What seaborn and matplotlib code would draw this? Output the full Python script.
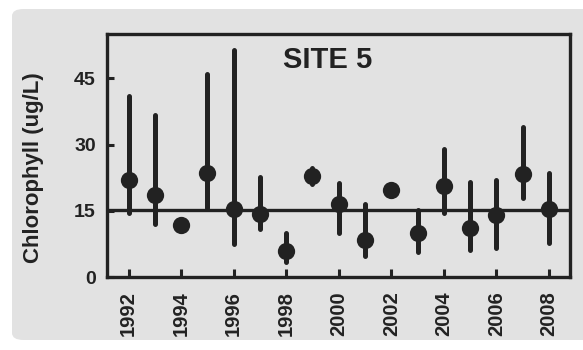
import numpy as np
import pandas as pd
import matplotlib
matplotlib.use("Agg")
import matplotlib.pyplot as plt
from matplotlib.patches import FancyBboxPatch
import seaborn as sns

years = [1992, 1993, 1994, 1995, 1996, 1997, 1998, 1999, 2000,
         2001, 2002, 2003, 2004, 2005, 2006, 2007, 2008]
means = [22.0, 18.6, 11.9, 23.6, 15.4, 14.3, 5.9, 22.9, 16.5,
         8.5, 19.7, 9.9, 20.6, 11.1, 14.1, 23.4, 15.4]
lows = [14.5, 12.0, np.nan, 15.6, 7.4, 10.9, 3.5, 21.1, 9.9,
        4.7, np.nan, 5.7, 14.6, 6.1, 6.6, 17.8, 7.6]
highs = [41.0, 36.8, np.nan, 46.0, 51.5, 22.7, 9.9, 24.7, 21.4,
         16.6, np.nan, 15.3, 29.0, 21.6, 22.0, 34.0, 23.5]
overall_mean = 15.1
title = "SITE 5"
ylabel = "Chlorophyll (ug/L)"
yticks = [0, 15, 30, 45]
xticks = list(range(1992, 2009, 2))

df = pd.DataFrame({"year": years, "mean": means, "lo": lows, "hi": highs})

sns.set_theme(style="white")
plt.rcParams["font.family"] = ["Liberation Sans", "DejaVu Sans"]
plt.rcParams["font.weight"] = "bold"

ink = "#222222"
gray = "#e2e2e2"

fig = plt.figure(figsize=(5.83, 3.5), dpi=100, facecolor="white")
panel = FancyBboxPatch((12 / 583, 10 / 350), 600 / 583, 331 / 350,
                       boxstyle="round,pad=0,rounding_size=0.02",
                       transform=fig.transFigure, facecolor=gray,
                       edgecolor="none", zorder=-10)
fig.patches.append(panel)

ax = fig.add_axes([107 / 583, 73 / 350, 463 / 583, 243.5 / 350])
ax.set_zorder(5)
ax.set_facecolor(gray)

ax.axhline(overall_mean, color=ink, lw=2.4, zorder=1)
bars = df.dropna()
ax.vlines(bars["year"], bars["lo"], bars["hi"], color=ink, lw=3.6,
          capstyle="round", zorder=2)
sns.scatterplot(data=df, x="year", y="mean", ax=ax, s=155, color=ink,
                edgecolor=ink, linewidth=0, zorder=3, legend=False)

ax.set_xlim(1991.18, 2008.8)
ax.set_ylim(0, 55.2)
ax.set_xticks(xticks)
ax.set_xticklabels([str(x) for x in xticks], rotation=90, fontsize=14.5,
                   fontweight="bold", color=ink)
ax.set_yticks(yticks)
ax.set_yticklabels([str(y) for y in yticks], fontsize=14,
                   fontweight="bold", color=ink)
ax.tick_params(axis="x", direction="in", length=5.5, width=2.2, color=ink,
               pad=10, bottom=True)
ax.tick_params(axis="y", direction="in", length=5, width=2.2, color=ink,
               pad=8, left=True)
ax.set_xlabel("")
ax.set_ylabel(ylabel, fontsize=16, fontweight="bold", color=ink)
ax.yaxis.set_label_coords(-0.137, 0.45)

for sp in ax.spines.values():
    sp.set_visible(True)
    sp.set_color(ink)
    sp.set_linewidth(2.4)

ax.text(0.477, 0.89, title, transform=ax.transAxes, ha="center",
        va="center", fontsize=21, fontweight="bold", color=ink)

fig.savefig("out.png", dpi=100, facecolor="white")
